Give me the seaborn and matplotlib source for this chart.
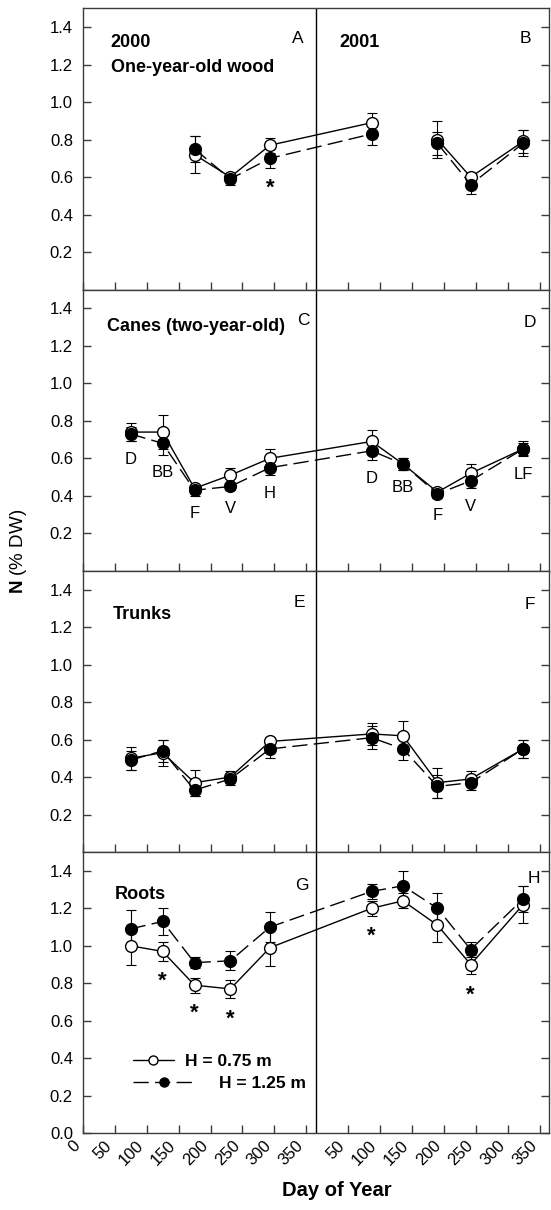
import numpy as np
import pandas as pd
import matplotlib
matplotlib.use("Agg")
import matplotlib.pyplot as plt
from matplotlib.lines import Line2D
from matplotlib.transforms import ScaledTranslation
import seaborn as sns

nan = np.nan

# ---------------- data ----------------
days_2000 = [75, 125, 175, 231, 293]
days_2001 = [87, 136, 190, 242, 324]

wood_low = [nan, nan, 0.72, 0.60, 0.77, 0.89, nan, 0.80, 0.60, 0.79]
wood_low_se = [nan, nan, 0.10, 0.02, 0.04, 0.05, nan, 0.10, 0.02, 0.06]
wood_high = [nan, nan, 0.75, 0.59, 0.70, 0.83, nan, 0.78, 0.56, 0.78]
wood_high_se = [nan, nan, 0.07, 0.03, 0.05, 0.06, nan, 0.06, 0.05, 0.07]

canes_low = [0.74, 0.74, 0.44, 0.51, 0.60, 0.69, 0.57, 0.42, 0.52, 0.65]
canes_low_se = [0.05, 0.09, 0.02, 0.04, 0.05, 0.06, 0.03, 0.02, 0.05, 0.04]
canes_high = [0.73, 0.68, 0.43, 0.45, 0.55, 0.64, 0.57, 0.41, 0.48, 0.65]
canes_high_se = [0.035, 0.06, 0.03, 0.02, 0.04, 0.05, 0.03, 0.02, 0.04, 0.03]

trunk_low = [0.50, 0.53, 0.37, 0.40, 0.59, 0.63, 0.62, 0.37, 0.39, 0.55]
trunk_low_se = [0.06, 0.07, 0.07, 0.03, 0.02, 0.06, 0.08, 0.08, 0.04, 0.05]
trunk_high = [0.49, 0.54, 0.33, 0.39, 0.55, 0.61, 0.55, 0.35, 0.37, 0.55]
trunk_high_se = [0.05, 0.06, 0.03, 0.03, 0.05, 0.06, 0.06, 0.06, 0.04, 0.05]

roots_low = [1.00, 0.97, 0.79, 0.77, 0.99, 1.20, 1.24, 1.11, 0.90, 1.22]
roots_low_se = [0.10, 0.05, 0.04, 0.05, 0.10, 0.04, 0.04, 0.09, 0.05, 0.10]
roots_high = [1.09, 1.13, 0.91, 0.92, 1.10, 1.29, 1.32, 1.20, 0.98, 1.25]
roots_high_se = [0.10, 0.07, 0.03, 0.05, 0.08, 0.04, 0.08, 0.08, 0.04, 0.07]

stages = ["D", "BB", "F", "V", "H", "D", "BB", "F", "V", "LF"]
wood_sig = [4]
roots_sig = [1, 2, 3, 5, 8]

panel_titles = ["One-year-old wood", "Canes (two-year-old)", "Trunks", "Roots"]
panel_letters = [("A", "B"), ("C", "D"), ("E", "F"), ("G", "H")]
legend_labels = ["H = 0.75 m", "H = 1.25 m"]
xtick_days = [0, 50, 100, 150, 200, 250, 300, 350]
xtick_days_2001 = [50, 100, 150, 200, 250, 300, 350]

# ---------------- style ----------------
sns.set_theme(style="ticks")
plt.rcParams["font.family"] = ["Liberation Sans", "DejaVu Sans"]
plt.rcParams["mathtext.fontset"] = "custom"
plt.rcParams["mathtext.bf"] = "Liberation Sans:bold"
plt.rcParams["mathtext.rm"] = "Liberation Sans"
plt.rcParams["axes.edgecolor"] = "#3c3c3c"
plt.rcParams["axes.linewidth"] = 1.0
plt.rcParams["text.color"] = "black"
plt.rcParams["axes.labelcolor"] = "black"

x_all = np.array(days_2000 + [d + 365 for d in days_2001], dtype=float)
DASH = (0, (11, 4.5))

fig = plt.figure(figsize=(5.51, 12.10), dpi=100)
left, right, bottom, top = 0.150, 0.997, 0.0634, 0.9931
h = (top - bottom) / 4
axes = [fig.add_axes([left, bottom + (3 - i) * h, right - left, h]) for i in range(4)]

panels = [
    (wood_low, wood_low_se, wood_high, wood_high_se),
    (canes_low, canes_low_se, canes_high, canes_high_se),
    (trunk_low, trunk_low_se, trunk_high, trunk_high_se),
    (roots_low, roots_low_se, roots_high, roots_high_se),
]


def draw_series(ax, vals, se, mfc, ls):
    vals = np.array(vals, dtype=float)
    se = np.array(se, dtype=float)
    df = pd.DataFrame({"day": x_all, "n": vals, "seg": np.cumsum(np.isnan(vals))})
    df = df.dropna()
    ax.errorbar(x_all, vals, yerr=se, fmt="none", ecolor="black",
                elinewidth=0.8, capsize=3.8, capthick=0.8, zorder=1.5)
    sns.lineplot(data=df, x="day", y="n", units="seg", estimator=None, sort=False,
                 color="black", lw=1.0, linestyle=ls, marker="o", markersize=8.5,
                 markerfacecolor=mfc, markeredgecolor="black", markeredgewidth=1.0,
                 legend=False, ax=ax)


shift = ScaledTranslation(7 / 100, 0, fig.dpi_scale_trans)

for i, (ax, (lo, lo_se, hi, hi_se)) in enumerate(zip(axes, panels)):
    draw_series(ax, lo, lo_se, "white", "-")
    draw_series(ax, hi, hi_se, "black", DASH)
    ax.axvline(365, color="black", lw=1.0, zorder=1)
    ax.set_xlim(0, 730)
    ax.set_ylim(0, 1.5)
    ax.set_xlabel("")
    ax.set_ylabel("")
    xt = xtick_days + [d + 365 for d in xtick_days_2001]
    ax.set_xticks(xt)
    if i == 3:
        ax.set_yticks(np.arange(0, 1.41, 0.2))
        ax.set_xticklabels([str(d) for d in xtick_days + xtick_days_2001],
                           rotation=45, ha="right", va="top")
        for lbl in ax.get_xticklabels():
            lbl.set_transform(lbl.get_transform() + shift)
    else:
        ax.set_yticks(np.arange(0.2, 1.41, 0.2))
        ax.tick_params(labelbottom=False)
    ax.set_yticklabels([f"{v:.1f}" for v in ax.get_yticks()])
    ax.tick_params(direction="in", length=6, width=1.0, color="#3c3c3c",
                   right=True, top=False, labelsize=12, pad=7, labelcolor="black")
    ax.tick_params(axis="x", pad=3.5)
    for sp in ax.spines.values():
        sp.set_visible(True)

    # panel titles and letters
    a, b = panel_letters[i]
    ypos_title = [0.772, 0.852, 0.829, 0.833][i]
    xpos_title = [0.060, 0.053, 0.064, 0.068][i]
    ax.text(xpos_title, ypos_title, panel_titles[i], transform=ax.transAxes,
            fontsize=13, fontweight="bold", va="baseline", ha="left")
    la = [(0.449, 0.878), (0.459, 0.875), (0.451, 0.871), (0.455, 0.866)][i]
    lb = [(0.936, 0.878), (0.944, 0.867), (0.947, 0.865), (0.953, 0.890)][i]
    ax.text(la[0], la[1], a, transform=ax.transAxes, fontsize=12.5,
            va="baseline", ha="left")
    ax.text(lb[0], lb[1], b, transform=ax.transAxes, fontsize=12.5,
            va="baseline", ha="left")

axes[0].text(0.060, 0.863, "2000", transform=axes[0].transAxes, fontsize=13,
             fontweight="bold", va="baseline", ha="left")
axes[0].text(0.551, 0.863, "2001", transform=axes[0].transAxes, fontsize=13,
             fontweight="bold", va="baseline", ha="left")

# phenological stage labels (canes panel)
for k, lab in enumerate(stages):
    ymin = min(canes_low[k] - canes_low_se[k], canes_high[k] - canes_high_se[k])
    axes[1].annotate(lab, (x_all[k], ymin), xytext=(0, -13),
                     textcoords="offset points", ha="center", va="center",
                     fontsize=12)


# significance asterisks
def stars(ax, idx, lo, lo_se, hi, hi_se):
    for k in idx:
        ymin = min(lo[k] - lo_se[k], hi[k] - hi_se[k])
        ax.annotate("*", (x_all[k], ymin), xytext=(0, -15),
                    textcoords="offset points", ha="center", va="center",
                    fontsize=16, fontweight="bold")


stars(axes[0], wood_sig, wood_low, wood_low_se, wood_high, wood_high_se)
stars(axes[3], roots_sig, roots_low, roots_low_se, roots_high, roots_high_se)

# legend
h1 = Line2D([], [], color="black", lw=1.0, marker="o", markersize=6.5,
            markerfacecolor="white", markeredgecolor="black")
h2 = Line2D([], [], color="black", lw=1.0, linestyle=DASH, marker="o",
            markersize=6.5, markerfacecolor="black", markeredgecolor="black")
prop = {"weight": "bold", "size": 12.5}
leg1 = axes[3].legend([h1], [legend_labels[0]], loc="center left",
                      bbox_to_anchor=(0.107, 0.254), frameon=False, prop=prop,
                      handlelength=2.4, handletextpad=0.63, borderpad=0,
                      borderaxespad=0)
axes[3].add_artist(leg1)
axes[3].legend([h2], [legend_labels[1]], loc="center left",
               bbox_to_anchor=(0.107, 0.177), frameon=False, prop=prop,
               handlelength=3.6, handletextpad=1.38, borderpad=0,
               borderaxespad=0)

fig.text(0.033, 0.544, r"$\mathbf{N}$ (% DW)", rotation=90, ha="center",
         va="center", fontsize=13.5)
fig.text(0.611, 0.0165, "Day of Year", ha="center", va="center",
         fontsize=14.5, fontweight="bold")

fig.savefig("out.png", dpi=100)
